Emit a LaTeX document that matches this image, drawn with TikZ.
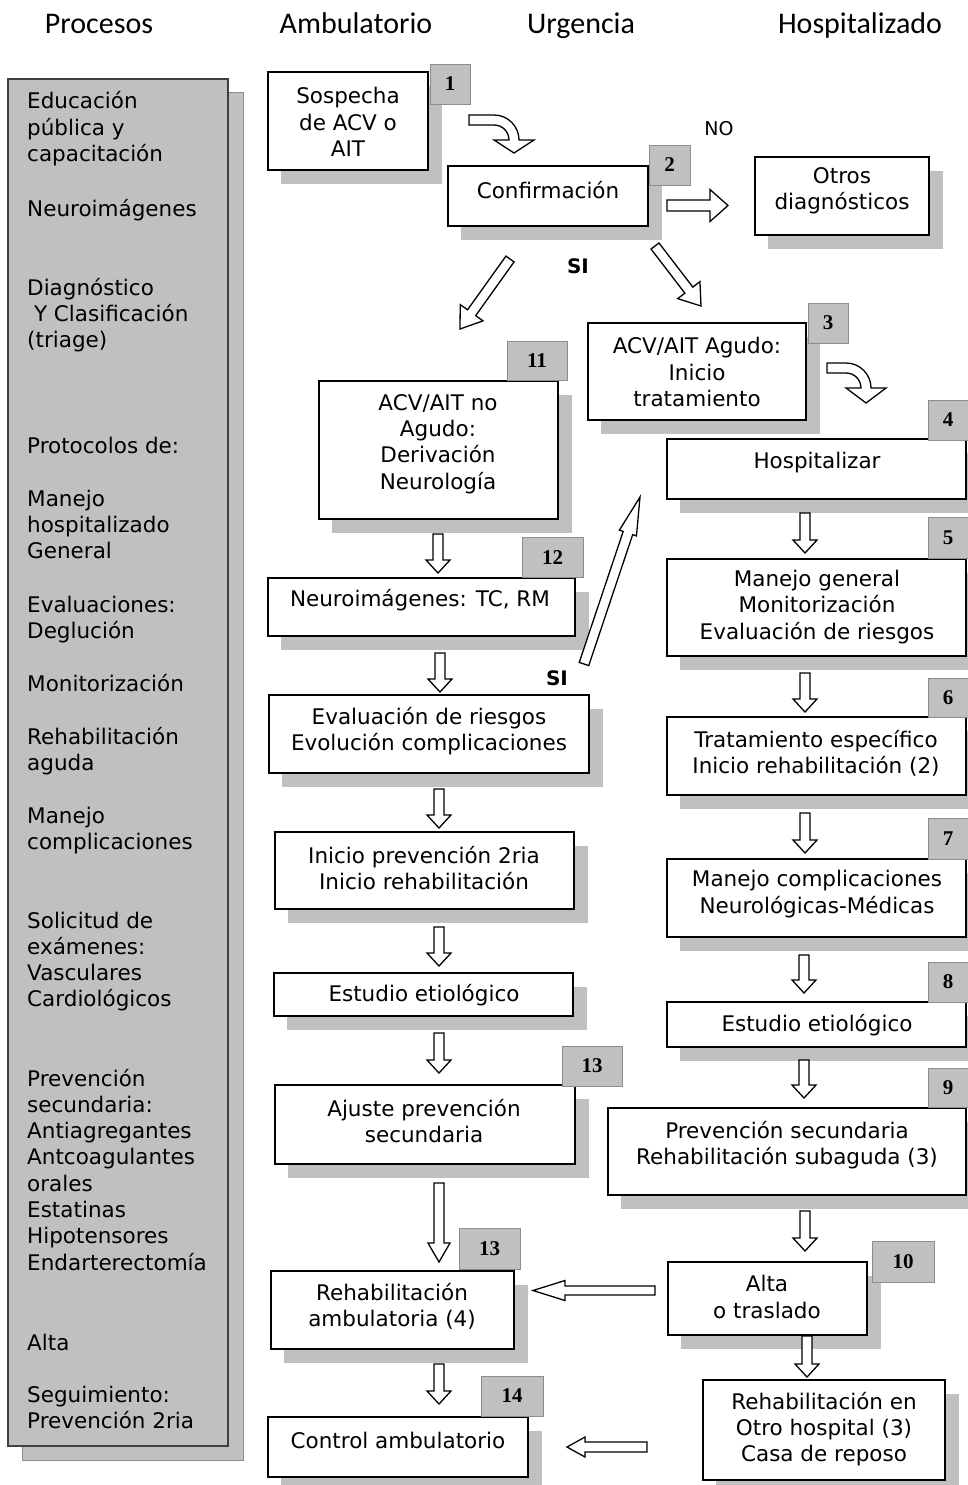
\documentclass[tikz,border=0pt]{standalone}
\usepackage{fontspec}
\setmainfont{DejaVu Sans}
\newfontfamily\hdrfont{Carlito}
\newfontfamily\numfont{Liberation Serif}
\usetikzlibrary{calc}
\definecolor{shadowgray}{HTML}{C0C0C0}
\definecolor{edgegray}{HTML}{8C8C8C}
\definecolor{paneledge}{HTML}{404040}

\tikzset{
  box/.style={draw=black, line width=1.6pt, fill=white, inner sep=0pt},
  txt/.style={align=center, inner sep=0pt, font=\fontsize{21.5}{26.3}\selectfont},
  lefttxt/.style={inner sep=0pt, font=\fontsize{21.5}{26.3}\selectfont},
  hdr/.style={inner sep=0pt, anchor=base, font=\hdrfont\fontsize{30}{36}\selectfont},
  badge/.style={fill=shadowgray, draw=edgegray, line width=0.5pt, inner sep=0pt,
    font=\numfont\bfseries\fontsize{21}{24}\selectfont},
  barrow/.style={draw=black, line width=1.3pt, fill=white, line join=miter},
  lbl/.style={inner sep=0pt, font=\fontsize{19}{23}\selectfont},
  boldlbl/.style={inner sep=0pt, font=\bfseries\fontsize{20}{24}\selectfont},
}

% name x1 y1 x2 y2
\newcommand\mkbox[5]{%
  \fill[shadowgray] (#2+13,#3+14) rectangle (#4+14,#5+14);
  \node[box, minimum width={(#4-#2)*1pt}, minimum height={(#5-#3)*1pt}]
    (#1) at ({(#2+#4)/2},{(#3+#5)/2}) {};
}
% name cx cy w h text
\newcommand\mkbadge[6]{%
  \node[badge, minimum width=#4pt, minimum height=#5pt] (#1) at (#2,#3) {#6};
}
% id tx ty hx hy w h L
\newcommand\barw[8]{%
  \coordinate (#1-t) at (#2,#3);
  \coordinate (#1-h) at (#4,#5);
  \coordinate (#1-b) at ($(#1-h)!#8pt!(#1-t)$);
  \draw[barrow] ($(#1-t)!#6pt!90:(#1-h)$) -- ($(#1-b)!#6pt!90:(#1-h)$)
    -- ($(#1-b)!#7pt!90:(#1-h)$) -- (#1-h) -- ($(#1-b)!#7pt!-90:(#1-h)$)
    -- ($(#1-b)!#6pt!-90:(#1-h)$) -- ($(#1-t)!#6pt!-90:(#1-h)$) -- cycle;
}

\begin{document}
\begin{tikzpicture}[x=1pt,y=-1pt]
\useasboundingbox (0,0) rectangle (968,1485);
\clip (0,0) rectangle (968,1485);
\fill[white] (0,0) rectangle (968,1485);

% headers
\node[hdr] (hProc) at (99,34) {Procesos};
\node[hdr] (hAmb) at (356,34) {Ambulatorio};
\node[hdr] (hUrg) at (581,34) {Urgencia};
\node[hdr] (hHosp) at (860,34) {Hospitalizado};

% left panel
\fill[shadowgray, draw=edgegray, line width=0.8pt] (22,92) rectangle (243,1460);
\node[fill=shadowgray, draw=paneledge, line width=1.3pt, inner sep=0pt,
  minimum width=220pt, minimum height=1367pt] (panel) at (118,762.5) {};
\foreach \yy/\txt [count=\i] in {
  101/Educación, 127.3/pública y, 153.6/capacitación,
  208/Neuroimágenes,
  287/Diagnóstico, 313.3/{\ Y Clasificación}, 339.6/(triage),
  445/Protocolos de:,
  498/Manejo, 524.3/hospitalizado, 550.6/General,
  604/Evaluaciones:, 630.3/Deglución,
  683/Monitorización,
  736/Rehabilitación, 762.3/aguda,
  815/Manejo, 841.3/complicaciones,
  920/Solicitud de, 946.3/exámenes:, 972.6/Vasculares, 998.9/Cardiológicos,
  1078/Prevención, 1104.3/secundaria:, 1130.6/Antiagregantes, 1156.9/Antcoagulantes,
  1183.2/orales, 1209.5/Estatinas, 1235.8/Hipotensores, 1262.1/Endarterectomía,
  1342/Alta,
  1394/Seguimiento:, 1420.3/Prevención 2ria}
  \node[lefttxt, anchor=base west] (L\i) at (27,\yy+8) {\txt};

% boxes
\mkbox{b1}{268}{72}{428}{170}
\mkbadge{n1}{450}{84}{40}{40}{1}
\mkbox{b2}{448}{166}{648}{226}
\mkbadge{n2}{669.5}{165}{41}{40}{2}
\mkbox{bo}{755}{157}{929}{235}
\mkbox{b3}{588}{323}{806}{420}
\mkbadge{n3}{828}{323}{40}{40}{3}
\mkbox{b11}{319}{381}{558}{519}
\mkbadge{n11}{537}{360.5}{60}{39}{11}
\mkbox{b12}{268}{578}{575}{636}
\mkbadge{n12}{552.5}{557.5}{61}{40}{12}
\mkbox{be}{269}{695}{589}{773}
\mkbox{bi}{275}{832}{574}{909}
\mkbox{bel}{274}{973}{573}{1016}
\mkbox{b13}{275}{1085}{575}{1164}
\mkbadge{n13}{592}{1066}{60}{40}{13}
\mkbox{b13b}{271}{1271}{514}{1349}
\mkbadge{n13b}{489.5}{1248.5}{61}{41}{13}
\mkbox{b14}{268}{1417}{528}{1477}
\mkbadge{n14}{512}{1396}{62}{40}{14}
\mkbox{b4}{667}{439}{966}{499}
\mkbadge{n4}{948}{420}{40}{40}{4}
\mkbox{b5}{667}{559}{966}{656}
\mkbadge{n5}{948}{538}{40}{41}{5}
\mkbox{b6}{667}{717}{966}{795}
\mkbadge{n6}{948}{698}{40}{39}{6}
\mkbox{b7}{667}{859}{966}{937}
\mkbadge{n7}{948}{839}{40}{41}{7}
\mkbox{b8}{667}{1002}{966}{1047}
\mkbadge{n8}{948}{982}{40}{40}{8}
\mkbox{b9}{608}{1108}{966}{1195}
\mkbadge{n9}{948}{1088}{40}{39}{9}
\mkbox{b10}{668}{1262}{867}{1335}
\mkbadge{n10}{903}{1261.5}{62}{41}{10}
\mkbox{br}{703}{1380}{945}{1480}

% texts
\node[txt] (t1) at (348,122) {Sospecha\\de ACV o\\AIT};
\node[txt] (t2) at (548,190) {Confirmación};
\node[txt] (to) at (842,191) {Otros\\diagnósticos};
\node[txt] (t3) at (697,372) {ACV/AIT Agudo:\\Inicio\\tratamiento};
\node[txt] (t11) at (438,444) {ACV/AIT no\\Agudo:\\Derivación\\Neurología};
\node[txt] (t12) at (420,600) {Neuroimágenes: TC, RM};
\node[txt] (te) at (429,731) {Evaluación de riesgos\\Evolución complicaciones};
\node[txt] (ti) at (424,868) {Inicio prevención 2ria\\Inicio rehabilitación};
\node[txt] (tel) at (424,995) {Estudio etiológico};
\node[txt] (t13) at (424,1121) {Ajuste prevención\\secundaria};
\node[txt] (t13b) at (392,1306) {Rehabilitación\\ambulatoria (4)};
\node[txt] (t14) at (398,1440) {Control ambulatorio};
\node[txt] (t4) at (817,463) {Hospitalizar};
\node[txt] (t5) at (817,607) {Manejo general\\Monitorización\\Evaluación de riesgos};
\node[txt] (t6) at (816,753) {Tratamiento específico\\Inicio rehabilitación (2)};
\node[txt] (t7) at (817,894) {Manejo complicaciones\\Neurológicas-Médicas};
\node[txt] (t8) at (817,1025) {Estudio etiológico};
\node[txt] (t9) at (787,1145) {Prevención secundaria\\Rehabilitación subaguda (3)};
\node[txt] (t10) at (767,1297) {Alta\\o traslado};
\node[txt] (tr) at (824,1429) {Rehabilitación en\\Otro hospital (3)\\Casa de reposo};

% labels
\node[lbl] (no) at (719,129) {NO};
\node[boldlbl] (si1) at (578,266) {SI};
\node[boldlbl] (si2) at (557,678) {SI};

% curved arrows
\draw[barrow] (469,115) -- (494,115) .. controls (507.8,115) and (519,126.2) .. (519,140)
  -- (534,140) -- (514,153) -- (494,140) -- (509,140)
  .. controls (509,131.7) and (502.3,125) .. (494,125) -- (469,125) -- cycle;
\draw[barrow] (827,363) -- (846,363) .. controls (859.8,363) and (871,374.2) .. (871,388)
  -- (886,388) -- (866,403) -- (846,388) -- (861,388)
  .. controls (861,379.7) and (854.3,373) .. (846,373) -- (827,373) -- cycle;

% block arrows
\barw{a1}{438}{534}{438}{573}{5}{12}{13}
\barw{a2}{440}{653}{440}{692}{5}{12}{13}
\barw{a3}{439}{789}{439}{828}{5}{12}{13}
\barw{a4}{439}{927}{439}{966}{5}{12}{13}
\barw{a5}{439}{1033}{439}{1073}{5}{12}{13}
\barw{a6}{439}{1183}{439}{1262}{5}{11}{19}
\barw{a7}{439}{1364}{439}{1404}{5}{12}{13}
\barw{r1}{805}{513}{805}{553}{5}{12}{13}
\barw{r2}{805}{673}{805}{712}{5}{12}{13}
\barw{r3}{805}{813}{805}{853}{5}{12}{13}
\barw{r4}{804}{955}{804}{993}{5}{12}{13}
\barw{r5}{804}{1060}{804}{1098}{5}{12}{13}
\barw{r6}{805}{1211}{805}{1251}{5}{12}{13}
\barw{r7}{807}{1336}{807}{1377}{5}{12}{13}
\barw{h1}{667}{205.5}{728}{205.5}{5.5}{16}{18}
\barw{h2}{655}{1290.5}{533}{1290.5}{4.5}{10}{32}
\barw{h3}{647}{1447}{567}{1447}{5}{10}{18}
\barw{d1}{510}{259}{460}{329}{5}{14}{20}
\barw{d2}{655}{246}{701}{306}{5}{14}{20}
\barw{d3}{584}{664}{640}{497}{5}{9}{38}
\end{tikzpicture}
\end{document}
